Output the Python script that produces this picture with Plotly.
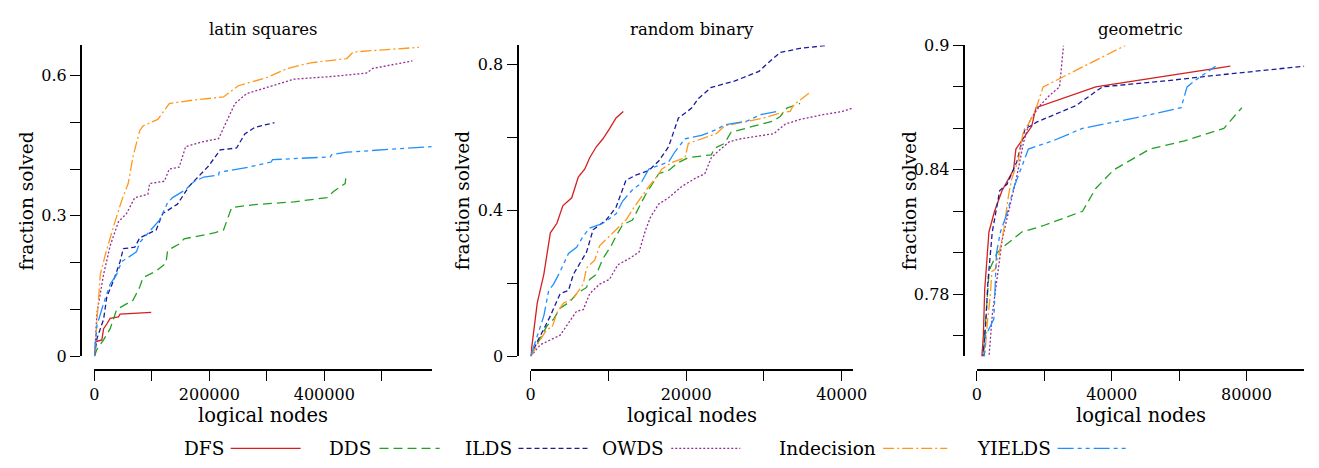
import plotly.graph_objects as go

W, H = 1319, 468
FONT = "DejaVu Serif"

methods = ["DFS", "DDS", "ILDS", "OWDS", "Indecision", "YIELDS"]
colors = {"DFS": "#d41f1f", "DDS": "#22a022", "ILDS": "#1c1c9a",
          "OWDS": "#952d95", "Indecision": "#ff981a", "YIELDS": "#1e8fff"}
dashes = {"DFS": "solid", "DDS": "9px,5px", "ILDS": "5px,3px", "OWDS": "2px,2px",
          "Indecision": "11px,3px,2px,3px", "YIELDS": "16px,4px,4px,4px,4px,4px"}

# ---------------- latin squares ----------------
ls_DFS_x = [0, 1700, 13000, 16000, 21600, 27400, 41700, 44600, 98800]
ls_DFS_y = [0, 0.031, 0.035, 0.059, 0.069, 0.081, 0.084, 0.090, 0.094]
ls_DDS_x = [0, 4500, 16000, 27400, 38800, 67400, 78900, 84600, 107400, 124500, 127400, 147500,
            156100, 210300, 224700, 238900, 278900, 347500, 404800, 416100, 436200, 437400]
ls_DDS_y = [0, 0.015, 0.035, 0.059, 0.100, 0.120, 0.148, 0.168, 0.182, 0.199, 0.226, 0.240,
            0.251, 0.264, 0.270, 0.318, 0.324, 0.330, 0.339, 0.352, 0.369, 0.380]
ls_ILDS_x = [0, 4500, 16000, 21600, 33100, 44600, 50300, 70300, 78900, 107400, 118900, 144600,
             164700, 199000, 218900, 247500, 261700, 278900, 313200]
ls_ILDS_y = [0, 0.038, 0.079, 0.127, 0.161, 0.202, 0.230, 0.233, 0.253, 0.270, 0.305, 0.325,
             0.363, 0.407, 0.441, 0.445, 0.475, 0.489, 0.499]
ls_OWDS_x = [0, 4500, 16000, 27400, 41700, 55900, 70300, 93100, 96000, 121800, 130300, 147500,
             158800, 187500, 216100, 244600, 264700, 310500, 347500, 416100, 473400, 484700,
             513400, 553300]
ls_OWDS_y = [0, 0.093, 0.175, 0.236, 0.287, 0.305, 0.339, 0.346, 0.369, 0.374, 0.400, 0.404,
             0.448, 0.458, 0.465, 0.540, 0.561, 0.578, 0.592, 0.598, 0.605, 0.615,
             0.622, 0.631]
ls_IND_x = [0, 3400, 10300, 18800, 33100, 47400, 58800, 67400, 78900, 84600, 110300, 130300,
            170300, 224700, 250400, 299000, 336200, 376200, 439100, 450400, 564800]
ls_IND_y = [0, 0.059, 0.175, 0.216, 0.277, 0.332, 0.369, 0.428, 0.482, 0.492, 0.506, 0.540,
            0.547, 0.554, 0.578, 0.595, 0.615, 0.627, 0.636, 0.650, 0.660]
ls_YLD_x = [0, 4500, 16000, 27400, 38800, 47400, 73100, 78900, 113200, 127400, 136000, 158800,
            173200, 190400, 216100, 217000, 267600, 307500, 310000, 410500, 413000, 439100, 587000]
ls_YLD_y = [0, 0.066, 0.113, 0.154, 0.175, 0.202, 0.223, 0.243, 0.291, 0.328, 0.339, 0.356,
            0.373, 0.383, 0.387, 0.393, 0.404, 0.415, 0.420, 0.426, 0.431, 0.436, 0.448]

# ---------------- random binary ----------------
rb_DFS_x = [0, 430, 850, 1700, 2540, 3380, 4140, 5290, 6130, 6970, 7600, 8450, 9300, 10140,
            10990, 11920]
rb_DFS_y = [0, 0.075, 0.146, 0.225, 0.339, 0.365, 0.413, 0.435, 0.492, 0.514, 0.545, 0.575,
            0.597, 0.624, 0.654, 0.672]
rb_DDS_x = [0, 850, 2120, 2960, 3800, 5070, 5920, 7190, 7600, 8450, 9300, 10350, 10990, 11840,
            13100, 13940, 14790, 15840, 16480, 17740, 19010, 20280, 23240, 23660, 24930, 25780,
            27460, 31270, 32120, 32950, 34650]
rb_DDS_y = [0, 0.032, 0.084, 0.102, 0.132, 0.150, 0.172, 0.189, 0.211, 0.225, 0.268, 0.303,
            0.330, 0.361, 0.374, 0.409, 0.444, 0.479, 0.501, 0.510, 0.532, 0.545, 0.553, 0.571,
            0.584, 0.615, 0.624, 0.646, 0.659, 0.681, 0.694]
rb_ILDS_x = [0, 850, 1700, 2540, 3800, 4870, 5500, 6340, 7190, 8030, 9720, 10990, 12260, 13520,
             15210, 16480, 17740, 19010, 20710, 21550, 23240, 26200, 29370, 30420, 32120, 34650,
             38020]
rb_ILDS_y = [0, 0.040, 0.075, 0.111, 0.172, 0.181, 0.225, 0.255, 0.286, 0.347, 0.374, 0.409,
             0.483, 0.497, 0.510, 0.536, 0.575, 0.654, 0.681, 0.707, 0.738, 0.755, 0.782, 0.803,
             0.834, 0.845, 0.853]
rb_OWDS_x = [0, 1270, 3800, 5920, 6770, 7600, 8870, 10140, 11200, 12670, 13940, 14790, 15420,
             16480, 17740, 19440, 21130, 22400, 23240, 24080, 25570, 27050, 31270, 32750, 34650,
             37600, 40120, 41500]
rb_OWDS_y = [0, 0.032, 0.058, 0.124, 0.128, 0.172, 0.198, 0.211, 0.251, 0.268, 0.286, 0.347,
             0.382, 0.418, 0.435, 0.466, 0.488, 0.501, 0.545, 0.562, 0.589, 0.597, 0.611, 0.637,
             0.650, 0.663, 0.672, 0.682]
rb_IND_x = [0, 850, 2120, 2750, 3380, 4230, 5500, 6770, 7190, 8240, 8870, 10140, 11410, 12260,
            13310, 14160, 15210, 16060, 16900, 18170, 19860, 20280, 21980, 23880, 24930, 27050,
            30000, 32120, 33380, 33800, 35920]
rb_IND_y = [0, 0.032, 0.075, 0.079, 0.119, 0.146, 0.159, 0.198, 0.242, 0.264, 0.303, 0.330,
            0.356, 0.374, 0.409, 0.435, 0.466, 0.488, 0.514, 0.532, 0.545, 0.584, 0.597, 0.611,
            0.632, 0.641, 0.654, 0.668, 0.672, 0.689, 0.724]
rb_YLD_x = [0, 640, 1060, 1700, 2330, 2960, 3800, 4870, 5920, 6770, 7600, 9300, 10990, 11840,
            13100, 14160, 15210, 16480, 17740, 18590, 19860, 21980, 24080, 24930, 27880, 29580,
            31690]
rb_YLD_y = [0, 0.040, 0.067, 0.111, 0.181, 0.198, 0.233, 0.282, 0.299, 0.330, 0.352, 0.365,
            0.391, 0.426, 0.457, 0.474, 0.514, 0.523, 0.533, 0.562, 0.597, 0.606, 0.624, 0.635,
            0.646, 0.663, 0.672]

# ---------------- geometric ----------------
ge_DFS_x = [1300, 1950, 2340, 3600, 5260, 7510, 10900, 11600, 16290, 17540, 35290, 75230]
ge_DFS_y = [0.745, 0.760, 0.782, 0.810, 0.820, 0.830, 0.840, 0.850, 0.861, 0.870, 0.880, 0.890]
ge_DDS_x = [1700, 2630, 3600, 4090, 6050, 7990, 13360, 19680, 31370, 35290, 40640, 51370,
            61610, 73300, 78660]
ge_DDS_y = [0.745, 0.765, 0.790, 0.793, 0.800, 0.803, 0.810, 0.813, 0.820, 0.831, 0.840, 0.850,
            0.854, 0.860, 0.870]
ge_ILDS_x = [1600, 2630, 3300, 4590, 6810, 8970, 11900, 14330, 15800, 17740, 29440, 37230,
             56730, 67460, 97170]
ge_ILDS_y = [0.745, 0.765, 0.786, 0.810, 0.830, 0.833, 0.844, 0.860, 0.861, 0.863, 0.871, 0.880,
             0.883, 0.885, 0.890]
ge_OWDS_x = [3400, 4590, 6050, 7510, 9450, 11900, 13840, 15790, 18710, 21640, 24560, 25730]
ge_OWDS_y = [0.745, 0.770, 0.788, 0.806, 0.820, 0.837, 0.853, 0.864, 0.871, 0.876, 0.880, 0.900]
ge_IND_x = [2100, 3120, 3980, 4490, 5460, 6530, 7990, 9450, 10440, 12380, 13840, 15300, 17250,
            19680, 44060]
ge_IND_y = [0.745, 0.766, 0.779, 0.791, 0.792, 0.799, 0.811, 0.828, 0.836, 0.845, 0.859, 0.862,
            0.868, 0.880, 0.900]
ge_YLD_x = [2000, 2630, 5060, 5260, 5850, 7020, 8970, 10900, 12870, 15290, 22600, 31370, 46990,
            60620, 62380, 65500, 70860]
ge_YLD_y = [0.745, 0.760, 0.768, 0.779, 0.800, 0.810, 0.819, 0.831, 0.840, 0.850, 0.854, 0.860,
            0.865, 0.870, 0.880, 0.884, 0.890]

panels = [
    {"title": "latin squares",
     "data": {"DFS": (ls_DFS_x, ls_DFS_y), "DDS": (ls_DDS_x, ls_DDS_y), "ILDS": (ls_ILDS_x, ls_ILDS_y),
              "OWDS": (ls_OWDS_x, ls_OWDS_y), "Indecision": (ls_IND_x, ls_IND_y),
              "YIELDS": (ls_YLD_x, ls_YLD_y)},
     "xr": [0, 587000], "yr": [0, 0.664],
     "xt": [0, 100000, 200000, 300000, 400000, 500000], "xl": ["0", "", "200000", "", "400000", ""],
     "yt": [0, 0.1, 0.2, 0.3, 0.4, 0.5, 0.6], "yl": ["0", "", "", "0.3", "", "", "0.6"],
     "px": (90.7, 433.0), "yax": 77.0},
    {"title": "random binary",
     "data": {"DFS": (rb_DFS_x, rb_DFS_y), "DDS": (rb_DDS_x, rb_DDS_y), "ILDS": (rb_ILDS_x, rb_ILDS_y),
              "OWDS": (rb_OWDS_x, rb_OWDS_y), "Indecision": (rb_IND_x, rb_IND_y),
              "YIELDS": (rb_YLD_x, rb_YLD_y)},
     "xr": [0, 41500], "yr": [0, 0.853],
     "xt": [0, 10000, 20000, 30000, 40000], "xl": ["0", "", "20000", "", "40000"],
     "yt": [0, 0.2, 0.4, 0.6, 0.8], "yl": ["0", "", "0.4", "", "0.8"],
     "px": (533.3, 860.7), "yax": 520.0},
    {"title": "geometric",
     "data": {"DFS": (ge_DFS_x, ge_DFS_y), "DDS": (ge_DDS_x, ge_DDS_y), "ILDS": (ge_ILDS_x, ge_ILDS_y),
              "OWDS": (ge_OWDS_x, ge_OWDS_y), "Indecision": (ge_IND_x, ge_IND_y),
              "YIELDS": (ge_YLD_x, ge_YLD_y)},
     "xr": [0, 97170], "yr": [0.75, 0.9],
     "xt": [0, 20000, 40000, 60000, 80000], "xl": ["0", "", "40000", "", "80000"],
     "yt": [0.76, 0.78, 0.80, 0.82, 0.84, 0.86, 0.88, 0.90],
     "yl": ["", "0.78", "", "", "0.84", "", "", "0.9"],
     "px": (986.0, 1318.3), "yax": 972.7},
]

PLOT_TOP, PLOT_BOT, XAX_Y = 38.0, 362.0, 376.0
fig = go.Figure()
layout = {}
annotations = []
shapes = []
for i, p in enumerate(panels):
    n = "" if i == 0 else str(i + 1)
    xa, ya = "x" + n, "y" + n
    for m in methods:
        xs, ys = p["data"][m]
        fig.add_trace(go.Scatter(x=xs, y=ys, mode="lines", name=m, showlegend=False,
                                 xaxis=xa, yaxis=ya,
                                 line=dict(color=colors[m], width=1.3, dash=dashes[m])))
    x0, x1 = p["px"]
    tickfont = dict(family=FONT, size=16, color="black")
    layout["xaxis" + n] = dict(domain=[x0 / W, x1 / W], range=p["xr"], anchor="free",
                               position=1 - XAX_Y / H, showline=True, linewidth=2, linecolor="black",
                               ticks="outside", ticklen=10, tickwidth=1.2, tickcolor="black",
                               tickvals=p["xt"], ticktext=p["xl"], tickfont=tickfont,
                               showgrid=False, zeroline=False, tickangle=0)
    layout["yaxis" + n] = dict(domain=[1 - PLOT_BOT / H, 1 - PLOT_TOP / H], range=p["yr"],
                               anchor="free", position=p["yax"] / W, showline=True, linewidth=2,
                               linecolor="black", ticks="outside", ticklen=10, tickwidth=1.2,
                               tickcolor="black", tickvals=p["yt"], ticktext=p["yl"],
                               tickfont=tickfont, showgrid=False, zeroline=False)
    cx = (x0 + x1) / 2 / W
    annotations.append(dict(text=p["title"], x=cx, y=1 - 21 / H, xref="paper", yref="paper",
                            showarrow=False, xanchor="center", yanchor="middle",
                            font=dict(family=FONT, size=16.5, color="black")))
    annotations.append(dict(text="logical nodes", x=cx, y=1 - 424 / H, xref="paper", yref="paper",
                            showarrow=False, xanchor="center", yanchor="middle",
                            font=dict(family=FONT, size=19.5, color="black")))
    annotations.append(dict(text="fraction solved", x=(p["yax"] - 55) / W, y=1 - 200 / H,
                            xref="paper", yref="paper", showarrow=False, textangle=-90,
                            xanchor="center", yanchor="middle",
                            font=dict(family=FONT, size=18.5, color="black")))

# custom legend: label followed by line sample
leg_text_right = [224, 373, 516, 671, 886, 1063]
leg_line = [(229, 300), (380, 441), (521, 591), (676, 746), (891, 956), (1068, 1140)]
LEG_Y = 1 - 458 / H
for m, tr, (l0, l1) in zip(methods, leg_text_right, leg_line):
    annotations.append(dict(text=m, x=tr / W, y=LEG_Y, xref="paper", yref="paper",
                            showarrow=False, xanchor="right", yanchor="middle",
                            font=dict(family=FONT, size=18.5, color="black")))
    shapes.append(dict(type="line", xref="paper", yref="paper", x0=l0 / W, x1=l1 / W,
                       y0=LEG_Y, y1=LEG_Y, line=dict(color=colors[m], width=1.3, dash=dashes[m])))

fig.update_layout(width=W, height=H, margin=dict(l=0, r=0, t=0, b=0),
                  paper_bgcolor="white", plot_bgcolor="white", showlegend=False,
                  annotations=annotations, shapes=shapes, **layout)
fig.write_html("out.html")
